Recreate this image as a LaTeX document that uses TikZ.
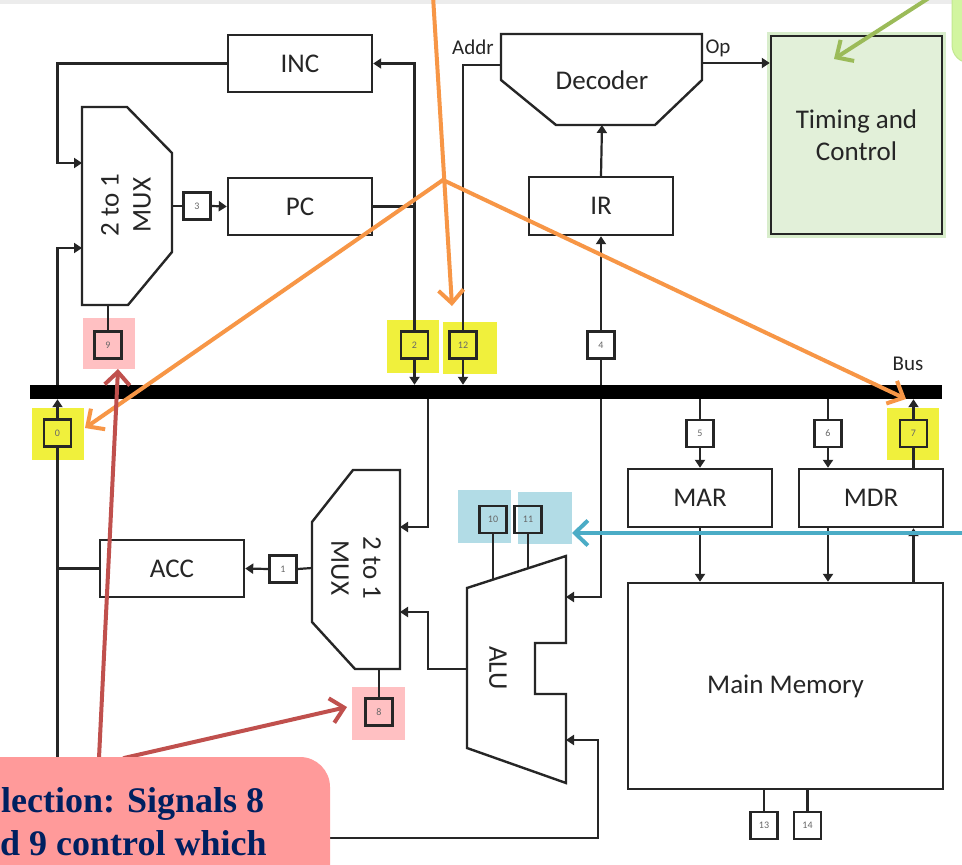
\documentclass[tikz,border=0pt]{standalone}
\usepackage{fontspec}
\setmainfont{Carlito}
\newfontfamily\calloutfont{Liberation Serif}
\usetikzlibrary{arrows.meta}
\definecolor{ln}{HTML}{262626}
\definecolor{hlyellow}{HTML}{F0F03C}
\definecolor{hlpink}{HTML}{FFC0C2}
\definecolor{hlblue}{HTML}{B2DCE6}
\definecolor{orng}{HTML}{F79646}
\definecolor{redarr}{HTML}{C0504D}
\definecolor{bluearr}{HTML}{4BACC6}
\definecolor{greenarr}{HTML}{9BBB59}
\definecolor{tcfill}{HTML}{E2F0D9}
\definecolor{tcglow}{HTML}{D8EDCB}
\definecolor{calgreen}{HTML}{D2F5A0}
\definecolor{calgreenedge}{HTML}{C2E890}
\definecolor{calred}{HTML}{FF9A9A}
\definecolor{navy}{HTML}{002060}
\tikzset{
  bigfont/.style={font=\fontsize{27}{32}\selectfont, text=ln},
  smallfont/.style={font=\fontsize{21}{24}\selectfont, text=ln},
  regbox/.style={draw=ln, line width=2.4pt, fill=white, inner sep=0pt, bigfont},
  sigbox/.style={draw=ln, line width=2.4pt, fill=white, minimum width=27pt, minimum height=27pt, inner sep=0pt, font=\fontsize{10}{10}\selectfont, text=ln!70},
  sighl/.style={sigbox, fill=none},
  shape outline/.style={draw=ln, line width=2.4pt, fill=white, line join=miter},
  wire/.style={draw=ln, line width=2.2pt},
  arr/.style={wire, -{Triangle[length=8pt,width=10pt]}},
  callarrow/.style={line width=4pt, line cap=round, -{Straight Barb[length=13pt,width=25pt,line width=4pt]}},
}
\begin{document}
\begin{tikzpicture}[x=1pt, y=-1pt]
\useasboundingbox (0,0) rectangle (962,865);
\fill[white] (0,0) rectangle (962,865);
\fill[gray!15] (0,0) rectangle (962,3.5);

% ---------- highlights ----------
\fill[hlpink] (83,318) rectangle (135,369);
\fill[hlpink] (352,687) rectangle (405,740);
\fill[hlyellow] (387,320) rectangle (439,373);
\fill[hlyellow] (443,322) rectangle (497,374);
\fill[hlyellow] (32,408) rectangle (84,460);
\fill[hlyellow] (887,408) rectangle (939,460);
\fill[hlblue] (458,490) rectangle (511,543);
\fill[hlblue] (518,492) rectangle (572,544);

% ---------- multiplexers, ALU, decoder ----------
\path[shape outline] (82,107) -- (127,107) -- (172,153) -- (172,252) -- (128,305) -- (82,305) -- cycle;
\node[bigfont, rotate=90, align=center] (mux1) at (126,205) {2 to 1\\MUX};
\path[shape outline] (353,470) -- (400,470) -- (400,669) -- (355,669) -- (312,622) -- (312,522) -- cycle;
\node[bigfont, rotate=-90, align=center] (mux2) at (356,568) {2 to 1\\MUX};
\path[shape outline] (467,588) -- (566,556) -- (566,643) -- (535,643) -- (535,694) -- (566,694) -- (566,783) -- (467,748) -- cycle;
\node[bigfont, rotate=-90] (alu) at (498,668) {ALU};
\path[shape outline] (501,34) -- (702,34) -- (702,80) -- (655,125) -- (556,125) -- (501,80) -- cycle;
\node[bigfont] (dec) at (602,80) {Decoder};

\coordinate (m1in1) at (82,163);
\coordinate (m1in2) at (82,248);
\coordinate (m1out) at (172,206);
\coordinate (m1sel) at (108,305);
\coordinate (m2in1) at (400,527);
\coordinate (m2in2) at (400,612);
\coordinate (m2out) at (312,568);
\coordinate (m2sel) at (379,669);
\coordinate (aluIn1) at (566,597);
\coordinate (aluIn2) at (566,740);
\coordinate (aluOut) at (467,669);
\coordinate (aluT10) at (493,579.6);
\coordinate (aluT11) at (528,568.3);
\coordinate (decAddr) at (501,65);
\coordinate (decOp) at (702,63);
\coordinate (decIn) at (602,125);
\coordinate (xL) at (57.5,0);
\coordinate (xM) at (428,0);

% ---------- registers ----------
\node[regbox, minimum width=144pt, minimum height=57pt] (INC) at (300,63.5) {INC};
\node[regbox, minimum width=144pt, minimum height=57pt] (PC) at (300,206.5) {PC};
\node[regbox, minimum width=144pt, minimum height=58pt] (IR) at (601,206) {IR};
\fill[tcglow] (767,32) rectangle (946,238);
\node[regbox, fill=tcfill, minimum width=171pt, minimum height=198pt, align=center] (TC) at (856.5,135) {Timing and\\Control};
\node[regbox, minimum width=144pt, minimum height=58pt] (MAR) at (700,498) {MAR};
\node[regbox, minimum width=144pt, minimum height=58pt] (MDR) at (871,498) {MDR};
\node[regbox, minimum width=315pt, minimum height=206pt] (MEM) at (785.5,686) {Main Memory};
\node[regbox, minimum width=144pt, minimum height=57pt] (ACC) at (172,568.5) {ACC};

% ---------- bus ----------
\node[fill=black, minimum width=912pt, minimum height=14pt, inner sep=0pt] (bus) at (486,392) {};
\node[smallfont] (buslbl) at (908,364) {Bus};
\node[smallfont] (addr) at (473,47) {Addr};
\node[smallfont] (op) at (718,48) {Op};

% ---------- signal boxes ----------
\node[sigbox] (s3) at (197,206) {3};
\node[sighl] (s9) at (108,345) {9};
\node[sighl] (s2) at (414.5,345) {2};
\node[sighl] (s12) at (463,345) {12};
\node[sigbox] (s4) at (601,345) {4};
\node[sighl] (s0) at (57.5,433) {0};
\node[sigbox] (s5) at (700,433.5) {5};
\node[sigbox] (s6) at (828,433.5) {6};
\node[sighl] (s7) at (913.5,433.5) {7};
\node[sighl] (s10) at (493,519.5) {10};
\node[sighl] (s11) at (528,519.5) {11};
\node[sigbox] (s1) at (283,569) {1};
\node[sighl] (s8) at (379,712) {8};
\node[sigbox] (s13) at (764,825.5) {13};
\node[sigbox] (s14) at (807.5,825.5) {14};

% ---------- wires ----------
\draw[arr] (INC.west) -- (INC.west -| xL) -- (xL |- m1in1) -- (m1in1);
\draw[arr] (bus.north -| xL) -- (xL |- m1in2) -- (m1in2);
\draw[wire] (m1out) -- (s3.west);
\draw[arr] (s3.east) -- (PC.west);
\draw[wire] (m1sel) -- (s9.north);
\draw[wire] (PC.east) -- (PC.east -| s2.north);
\draw[arr] (s2.north) -- (s2.north |- INC.east) -- (INC.east);
\draw[arr] (s2.south) -- (s2.south |- bus.north);
\draw[wire] (decAddr) -- (decAddr -| s12.north) -- (s12.north);
\draw[arr] (s12.south) -- (s12.south |- bus.north);
\draw[arr] (s4.north) -- (IR.south);
\draw[wire] (s4.south) -- (s4.south |- bus.north);
\draw[arr] (s4.south |- bus.south) -- (s4.south |- aluIn1) -- (aluIn1);
\draw[arr] (IR.north) -- (decIn);
\draw[arr] (decOp) -- (decOp -| TC.west);
\draw[wire] (s5.north |- bus.south) -- (s5.north);
\draw[arr] (s5.south) -- (MAR.north);
\draw[wire] (s6.north |- bus.south) -- (s6.north);
\draw[arr] (s6.south) -- (s6.south |- MDR.north);
\draw[wire] (MDR.north -| s7.south) -- (s7.south);
\draw[arr] (s7.north) -- (s7.north |- bus.south);
\draw[arr] (MAR.south) -- (MAR.south |- MEM.north);
\draw[arr] (MDR.south -| s6.south) -- (s6.south |- MEM.north);
\draw[arr] (MEM.north -| s7.south) -- (s7.south |- MDR.south);
\draw[wire] (MEM.south -| s13.north) -- (s13.north);
\draw[wire] (MEM.south -| s14.north) -- (s14.north);
\draw[arr] (bus.south -| xM) -- (xM |- m2in1) -- (m2in1);
\draw[arr] (aluOut) -- (aluOut -| xM) -- (xM |- m2in2) -- (m2in2);
\draw[wire] (m2out) -- (s1.east);
\draw[arr] (s1.west) -- (ACC.east);
\draw[wire] (m2sel) -- (s8.north);
\draw[wire] (ACC.west) -- (ACC.west -| xL);
\draw[arr] (s0.north) -- (s0.north |- bus.south);
\draw[arr] (s0.south) -- (57.5,838) -- (598,838) -- (598,740) -- (aluIn2);
\draw[wire] (aluT10) -- (s10.south);
\draw[wire] (aluT11) -- (s11.south);

% ---------- annotation arrows ----------
\coordinate (oTop) at (433,-4);
\coordinate (oJ) at (443,180);
\draw[orng, callarrow] (oTop) -- (452,306);
\draw[orng, callarrow] (oJ) -- (85,428);
\draw[orng, callarrow] (oJ) -- (906,399);
\draw[bluearr, callarrow] (970,533) -- (572,533);
\draw[greenarr, callarrow] (932,-4) -- (834,59);

% green callout (cut by top right edge)
\filldraw[fill=calgreen, draw=calgreenedge, line width=1pt, rounded corners=18pt] (952,-40) rectangle (1020,63);

% red callout
\coordinate (rA) at (99,758);
\coordinate (rB) at (124,758);
\draw[redarr, callarrow] (rA) -- (118,369);
\draw[redarr, callarrow] (rB) -- (347,707);
\fill[calred, rounded corners=30pt] (-60,757) rectangle (330,920);
\node[anchor=base west, inner sep=0pt, text=navy, font=\calloutfont\bfseries\fontsize{36}{43}\selectfont] (cl1) at (1,812) {lection: Signals 8};
\node[anchor=base west, inner sep=0pt, text=navy, font=\calloutfont\bfseries\fontsize{36}{43}\selectfont] (cl2) at (0,855) {d 9 control which};
\end{tikzpicture}
\end{document}
